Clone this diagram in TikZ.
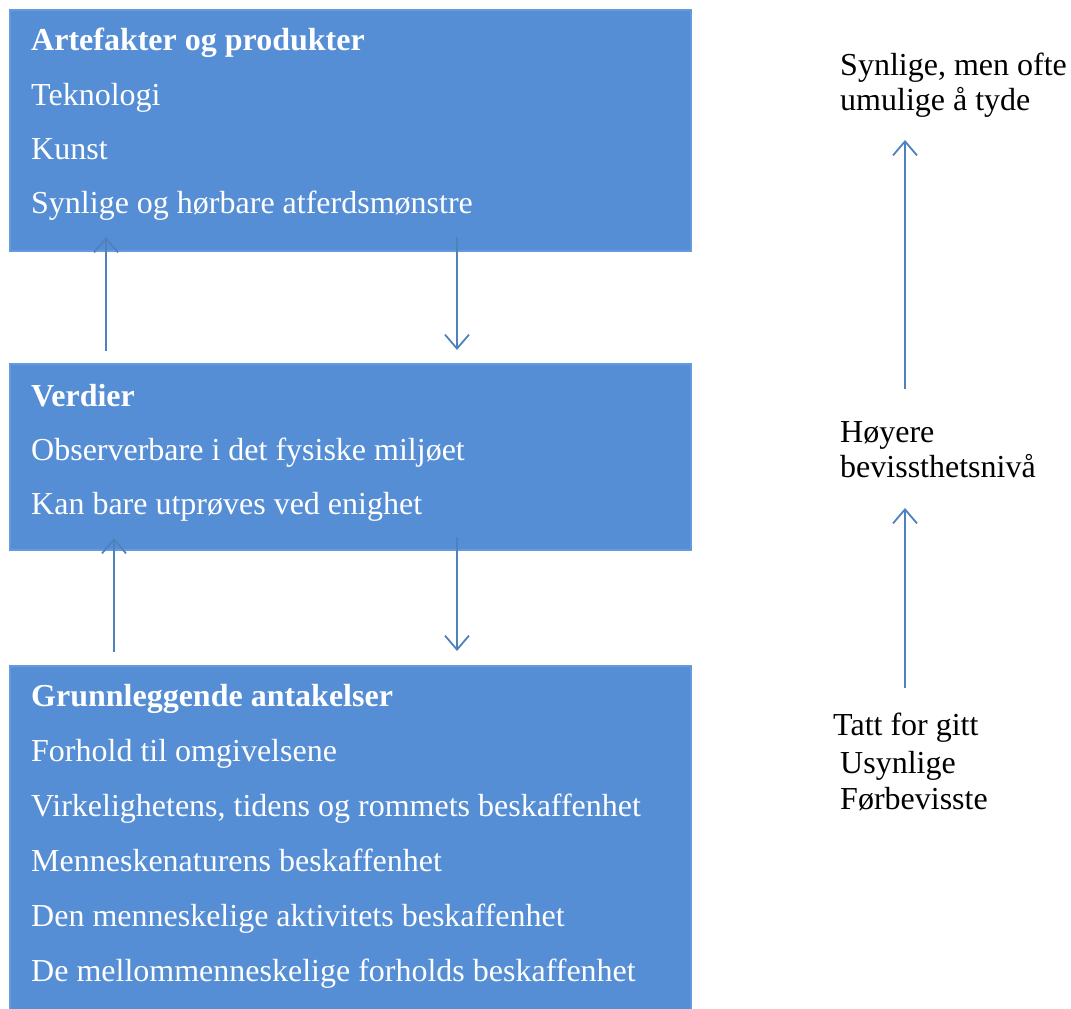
\documentclass[tikz,border=0pt]{standalone}
\usepackage{fontspec}
\setmainfont{Liberation Serif}
\usetikzlibrary{arrows.meta}

\definecolor{boxblue}{RGB}{85,142,213}
\definecolor{edgeblue}{RGB}{100,155,222}
\definecolor{arrowblue}{RGB}{79,129,189}

\begin{document}
\begin{tikzpicture}[x=1pt,y=-1pt,
  layer/.style={fill=boxblue,draw=edgeblue,line width=1.5pt,anchor=north west,inner sep=0pt},
  item/.style={anchor=base west,text=white,inner sep=0pt,font=\fontsize{32}{38}\selectfont},
  head/.style={item,font=\fontsize{32}{38}\selectfont\bfseries},
  note/.style={anchor=base west,inner sep=0pt,align=left,font=\fontsize{32}{35}\selectfont},
  flow/.style={draw=arrowblue,line width=1.8pt,-{Straight Barb[length=14,width=24,line width=1.8pt]}}]
\useasboundingbox (0,0) rectangle (1071,1009);

% the three levels
\node[layer,minimum width=681,minimum height=241] (art) at (9,9) {};
\node[layer,minimum width=681,minimum height=186] (verd) at (9,363) {};
\node[layer,minimum width=681,minimum height=348] (ant) at (9,665) {};

\node[head] (h1) at (31,50) {Artefakter og produkter};
\node[item] (a1) at (31,105) {Teknologi};
\node[item] (a2) at (31,159) {Kunst};
\node[item] (a3) at (31,213) {Synlige og hørbare atferdsmønstre};

\node[head] (h2) at (31,406) {Verdier};
\node[item] (v1) at (31,460) {Observerbare i det fysiske miljøet};
\node[item] (v2) at (31,514) {Kan bare utprøves ved enighet};

\node[head] (h3) at (31,706) {Grunnleggende antakelser};
\node[item] (g1) at (31,761) {Forhold til omgivelsene};
\node[item] (g2) at (31,816) {Virkelighetens, tidens og rommets beskaffenhet};
\node[item] (g3) at (31,871) {Menneskenaturens beskaffenhet};
\node[item] (g4) at (31,926) {Den menneskelige aktivitets beskaffenhet};
\node[item] (g5) at (31,981) {De mellommenneskelige forholds beskaffenhet};

% right column (base = last line)
\node[note] (vis) at (840,110) {Synlige, men ofte\\umulige å tyde};
\node[note] (hoy) at (840,477) {Høyere\\bevissthetsnivå};
\node[note] (tatt) at (833,735) {Tatt for gitt};
\node[note] (usyn) at (840,773) {Usynlige};
\node[note] (forb) at (840,809) {Førbevisste};

% arrow ends
\coordinate (up1s) at (106,351);
\coordinate (up1e) at (106,237);
\coordinate (dn1s) at (457,237);
\coordinate (dn1e) at (457,350);
\coordinate (up2s) at (114,652);
\coordinate (up2e) at (114,538);
\coordinate (dn2s) at (457,537);
\coordinate (dn2e) at (457,651);
\coordinate (r1s) at (905,389);
\coordinate (r1e) at (905,140);
\coordinate (r2s) at (905,688);
\coordinate (r2e) at (905,508);

\draw[flow] (up1s) -- (up1e);
\draw[flow] (dn1s) -- (dn1e);
\draw[flow] (up2s) -- (up2e);
\draw[flow] (dn2s) -- (dn2e);
\draw[flow] (r1s) -- (r1e);
\draw[flow] (r2s) -- (r2e);
\end{tikzpicture}
\end{document}
